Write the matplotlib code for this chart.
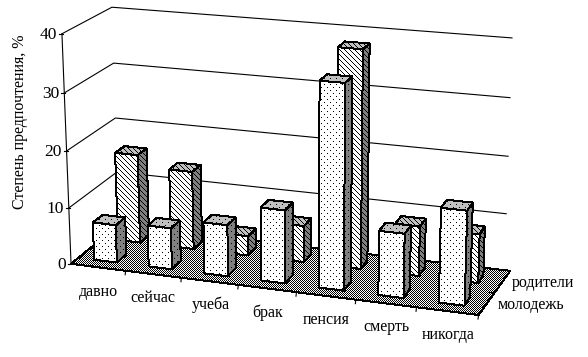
import numpy as np
import matplotlib
matplotlib.use("Agg")
import matplotlib.pyplot as plt
from matplotlib.patches import Polygon

plt.rcParams['font.family'] = ['Liberation Serif', 'DejaVu Serif']

categories = ['давно', 'сейчас', 'учеба', 'брак', 'пенсия', 'смерть', 'никогда']
series_names = ['молодежь', 'родители']
molodezh = [6.7, 7.3, 9, 12.7, 35, 11, 16]
roditeli = [16, 14, 3.5, 6.5, 38, 8.7, 8.5]
y_ticks = [0, 10, 20, 30, 40]

# calibration of the oblique view: (category, depth, value) -> pixel
calib = [
    ((0, 0, 0), (72, 264)), ((0, 0, 10), (69.5, 208)), ((0, 0, 20), (67, 152)),
    ((0, 0, 30), (64, 92)), ((0, 0, 40), (61, 34)),
    ((0, 2, 10), (116, 172)), ((0, 2, 20), (115, 118)), ((0, 2, 30), (114, 63)), ((0, 2, 40), (113, 7)),
    ((7, 2, 0), (505, 270)), ((7, 2, 10), (505.5, 214)), ((7, 2, 20), (508, 156)),
    ((7, 2, 30), (510, 98)), ((7, 2, 40), (512, 38)),
    ((1, 0, 0), (125, 270.6)), ((2, 0, 0), (181, 277.7)), ((3, 0, 0), (238, 284.8)),
    ((4, 0, 0), (297, 292.2)), ((5, 0, 0), (356, 299.6)), ((6, 0, 0), (416, 307.1)), ((7, 0, 0), (479, 315)),
]

rows = []
for (x, y, z), (u, v) in calib:
    u, v = u / 500., v / 500.
    w = [x, y, z / 10., 1.]
    rows.append(w + [0, 0, 0, 0] + [-u * a for a in w])
    rows.append([0, 0, 0, 0] + w + [-v * a for a in w])
P = np.linalg.svd(np.array(rows))[2][-1].reshape(3, 4)


def pr(x, y, z):
    p = P @ np.array([x, y, z / 10., 1.])
    return (500. * p[0] / p[2], 500. * p[1] / p[2])


fig = plt.figure(figsize=(5.88, 3.57), dpi=100)
ax = fig.add_axes([0, 0, 1, 1])
ax.set_xlim(0, 588)
ax.set_ylim(357, 0)
ax.axis('off')

# bitmap fill patterns, one pixel per image cell
yy, xx = np.mgrid[0:357, 0:588]
checker = (xx + yy) % 2 == 0
dots = ((yy % 6 == 0) & (xx % 6 == 0)) | ((yy % 6 == 3) & (xx % 6 == 3))
stripes = (xx - yy) % 5 == 0
z_next = [1.0]


def face(pts, fc, mask, ec='k'):
    z_next[0] += 0.01
    ax.add_patch(Polygon(pts, closed=True, fc=fc, ec='none', zorder=z_next[0], antialiased=False))
    z_next[0] += 0.01
    rgba = np.zeros(mask.shape + (4,))
    rgba[..., 3] = mask
    im = ax.imshow(rgba, extent=(0, 588, 357, 0), interpolation='nearest', zorder=z_next[0], aspect='auto')
    clip = Polygon(pts, closed=True, transform=ax.transData)
    im.set_clip_path(clip)
    z_next[0] += 0.01
    ax.add_patch(Polygon(pts, closed=True, fc='none', ec=ec, lw=0.72, zorder=z_next[0], antialiased=False))


# floor, dithered like the original
face([pr(0, 0, 0), pr(7, 0, 0), pr(7.1, 2, 0), pr(0, 2, 0)], 'white', checker)

# walls
for v in y_ticks[1:]:
    pts = [pr(0, 0, v), pr(0, 2, v), pr(7, 2, v)]
    ax.plot(*zip(*pts), color='k', lw=0.8, zorder=3)
ax.plot(*zip(pr(0, 0, 0), pr(0, 0, 40)), color='k', lw=0.8, zorder=3)
for v in y_ticks:
    xt, yt = pr(0, 0, v)
    ax.plot([xt - 3, xt + 1], [yt, yt], color='k', lw=0.8, zorder=3)
    ax.text(xt - 5, yt + 1, str(v), ha='right', va='center', fontsize=12.5)
for i in range(1, 8):
    xt, yt = pr(i, 0, 0)
    ax.plot([xt, xt - 0.5], [yt, yt + 4], color='k', lw=0.8, zorder=3)
xt, yt = pr(7, 1, 0)
ax.plot([xt, xt - 4], [yt, yt], color='k', lw=0.8, zorder=3)
z_next[0] = 4.0


def bar(i, d, value, mask):
    x0, x1 = i + 0.29, i + 0.71
    y0, y1 = d + 0.3, d + 0.7
    front = [pr(x0, y0, 0), pr(x1, y0, 0), pr(x1, y0, value), pr(x0, y0, value)]
    side = [pr(x1, y0, 0), pr(x1, y1, 0), pr(x1, y1, value), pr(x1, y0, value)]
    top = [pr(x0, y0, value), pr(x1, y0, value), pr(x1, y1, value), pr(x0, y1, value)]
    face(side, '#808080', mask)
    face(top, '#c0c0c0', mask)
    face(front, 'white', mask)


for i, v in enumerate(roditeli):
    bar(i, 1, v, stripes)
for i, v in enumerate(molodezh):
    bar(i, 0, v, dots)

# labels
label_x = [98, 153, 211, 268, 326, 386, 448]
label_y = [292, 298, 305, 313, 320, 327, 335]
for name, xl, yl in zip(categories, label_x, label_y):
    ax.text(xl, yl, name, ha='center', va='center', fontsize=11.5)
ax.text(531, 305, series_names[0], ha='center', va='center', fontsize=11.5)
ax.text(543, 283, series_names[1], ha='center', va='center', fontsize=11.5)
ax.text(20, 122, 'Степень предпочтения, %', rotation=90, ha='center', va='center', fontsize=11.5)

ax.set_xlim(0, 588)
ax.set_ylim(357, 0)
fig.savefig('out.png', dpi=100)
